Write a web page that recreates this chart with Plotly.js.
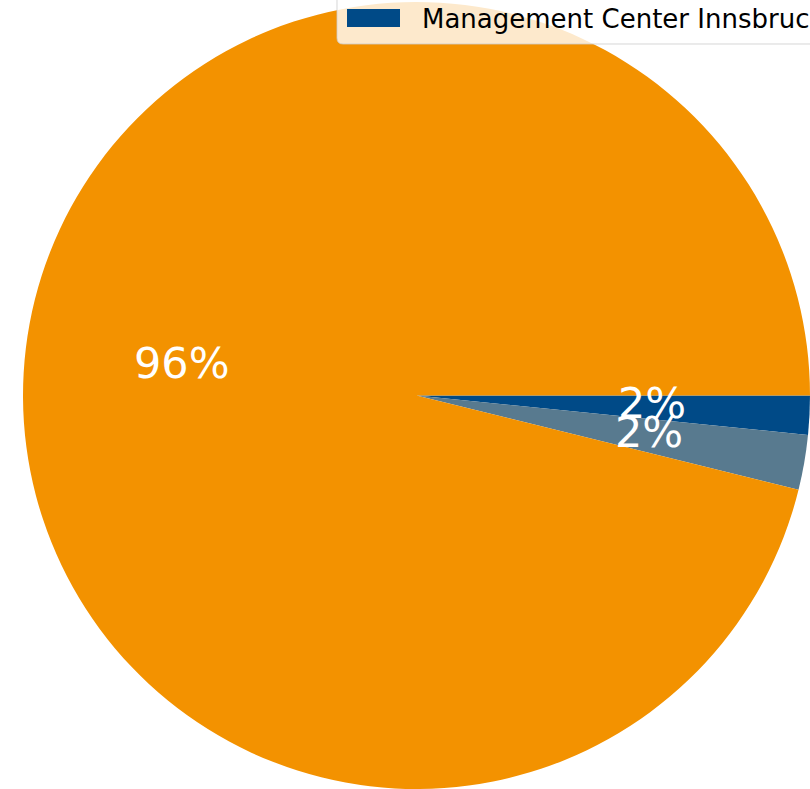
<!DOCTYPE html>
<html>
<head>
<meta charset="utf-8">
<script src="https://cdn.plot.ly/plotly-3.0.1.min.js"></script>
<style>html,body{margin:0;padding:0;background:#fff;}#chart{width:810px;height:789px;}</style>
</head>
<body>
<div id="chart"></div>
<script>
const labels = ["Management Center Innsbruck", "Other institutions", "Rest"];
const values = [1.6, 2.25, 96.15];
const colors = ["#004a87", "#587a8f", "#f39200"];
const legendLabels = ["Management Center Innsbruck"];

const W = 810, H = 789;
const cxPx = 416.5, cyPx = 395.5, Rpx = 393.5;

const total = values.reduce((a, b) => a + b, 0);
const annotations = [];
let cum = 0;
values.forEach((v, i) => {
  const frac = v / total;
  const theta = -2 * Math.PI * (cum + frac / 2);
  cum += frac;
  const px = cxPx + 0.6 * Rpx * Math.cos(theta);
  const py = cyPx - 0.6 * Rpx * Math.sin(theta);
  annotations.push({
    x: px / W, y: 1 - py / H, xref: "paper", yref: "paper",
    text: Math.round(frac * 100) + "%", showarrow: false,
    xanchor: "center", yanchor: "middle", yshift: 4,
    font: {family: "DejaVu Sans", size: 43, color: "#ffffff"}
  });
});

// legend (manually drawn, clipped at top as in reference)
annotations.push({
  x: 423 / W, y: 1 - 19 / H, xref: "paper", yref: "paper", xshift: -3,
  text: legendLabels[0], showarrow: false, xanchor: "left", yanchor: "middle",
  font: {family: "DejaVu Sans", size: 26, color: "#000000"}
});

const lx0 = 337, ly1 = 44, r = 6;
const legendPath = `M ${lx0 / W} ${1 + 10 / H} L ${lx0 / W} ${1 - (ly1 - r) / H} Q ${lx0 / W} ${1 - ly1 / H} ${(lx0 + r) / W} ${1 - ly1 / H} L ${(W + 20) / W} ${1 - ly1 / H} L ${(W + 20) / W} ${1 + 10 / H} Z`;

const shapes = [
  {type: "path", xref: "paper", yref: "paper", path: legendPath,
   fillcolor: "rgba(255,255,255,0.8)", line: {color: "rgba(204,204,204,0.8)", width: 1}},
  {type: "rect", xref: "paper", yref: "paper",
   x0: 347 / W, x1: 400 / W, y0: 1 - 27 / H, y1: 1 - 9 / H,
   fillcolor: colors[0], line: {width: 0}}
];

const trace = {
  type: "pie", labels: labels, values: values, sort: false,
  direction: "clockwise", rotation: 90,
  marker: {colors: colors, line: {width: 0}},
  textinfo: "none", hoverinfo: "none",
  domain: {x: [(cxPx - Rpx) / W, (cxPx + Rpx) / W], y: [1 - (cyPx + Rpx) / H, 1 - (cyPx - Rpx) / H]}
};

Plotly.newPlot("chart", [trace], {
  width: W, height: H, margin: {l: 0, r: 0, t: 0, b: 0},
  paper_bgcolor: "#ffffff", showlegend: false,
  shapes: shapes, annotations: annotations
}, {displayModeBar: false, staticPlot: true});
</script>
</body>
</html>
